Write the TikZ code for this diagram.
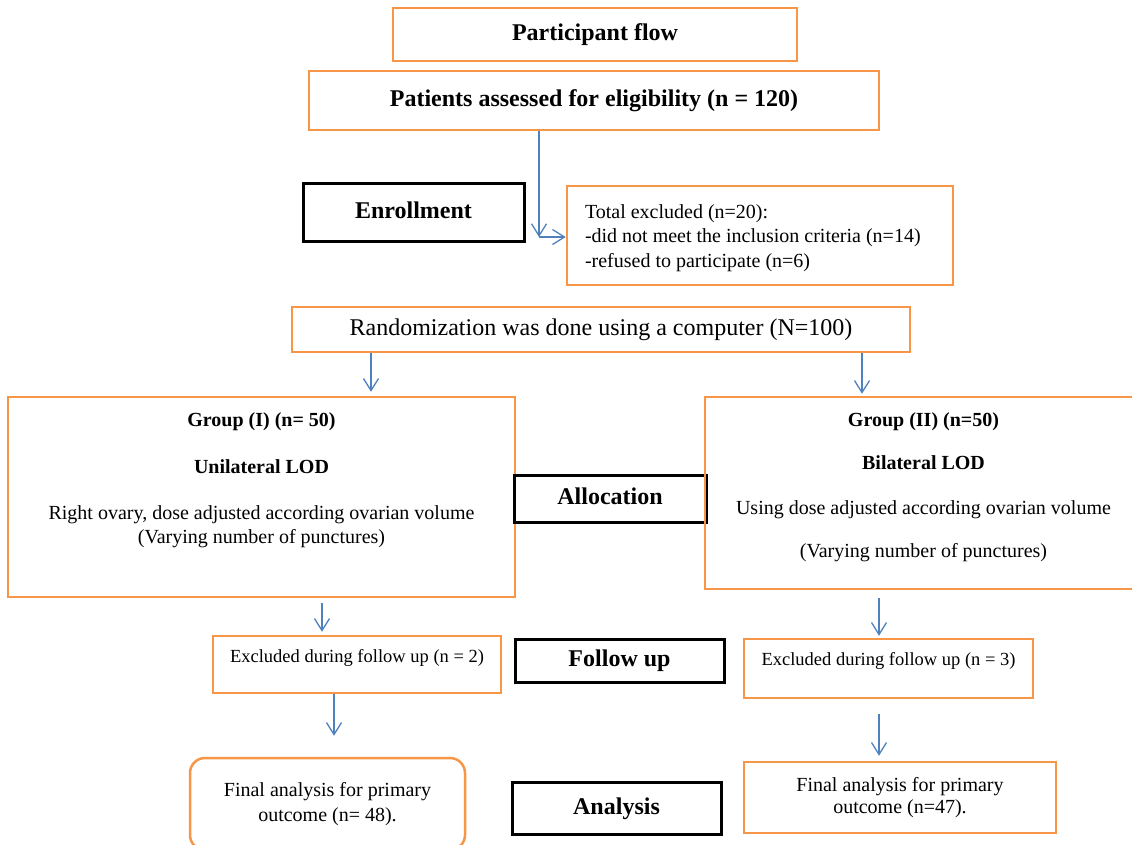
\documentclass[tikz,border=0pt]{standalone}
\usepackage{fontspec}
\setmainfont{Liberation Serif}
\usepackage{tikz}
\usetikzlibrary{arrows.meta}
\definecolor{boxorange}{HTML}{F79646}
\definecolor{arrowblue}{HTML}{4F81BD}
\newcommand{\headfont}{\fontsize{24}{28}\selectfont}
\newcommand{\groupfont}{\fontsize{20}{24}\selectfont}
\tikzset{
    flowbox/.style={
           rectangle,
           draw=boxorange, line width=2.5pt,
           inner sep=0pt,
           text centered,
           },
    stagebox/.style={
           rectangle,
           draw=black, line width=3pt,
           inner sep=0pt,
           font=\headfont\bfseries,
           text height=17pt, text depth=5pt,
           },
    flowarrow/.style={->, draw=arrowblue, line width=1.3pt},
}

\begin{document}
\begin{tikzpicture}[x=1pt,y=-1pt,>={Straight Barb[length=12pt,width=15pt]}]

 \useasboundingbox (0,0) rectangle (1132,844);

 % top of the flow
 \node[flowbox,minimum width=404pt,minimum height=53pt,font=\headfont\bfseries] (flow) at (595,34.5)
 {Participant flow};
 \node[flowbox,minimum width=570pt,minimum height=59pt,font=\headfont\bfseries] (assessed) at (594,100.5)
 {Patients assessed for eligibility (n = 120)};

 % enrollment stage
 \node[stagebox,minimum width=221pt,minimum height=58pt] (enroll) at (413.5,212) {Enrollment};
 \node[flowbox,inner xsep=18pt] (excluded) at (760,235.5)
 {\parbox[c][99pt][t]{350pt}{\raggedright\fontsize{20}{24.5}\selectfont
  \rule{0pt}{32pt}Total excluded (n=20):\\
  -did not meet the inclusion criteria (n=14)\\
  -refused to participate (n=6)}};

 \node[flowbox,minimum width=618pt,minimum height=45pt,font=\headfont] (random) at (601,329.5)
 {Randomization was done using a computer (N=100)};

 % allocation stage
 \node[flowbox] (groupone) at (261.5,497)
 {\parbox[c][200pt][t]{507pt}{\centering\groupfont
  \rule{0pt}{29pt}\textbf{Group (I) (n= 50)}\\[23pt]
  \textbf{Unilateral LOD}\\[22pt]
  Right ovary, dose adjusted according ovarian volume\\
  (Varying number of punctures)}};
 \node[stagebox,minimum width=192pt,minimum height=47pt] (alloc) at (610,498.5) {Allocation};
 \node[flowbox] (grouptwo) at (923.5,493)
 {\parbox[c][192pt][t]{437pt}{\centering\groupfont
  \rule{0pt}{29pt}\textbf{Group (II) (n=50)}\\[19pt]
  \textbf{Bilateral LOD}\\[21pt]
  Using dose adjusted according ovarian volume\\[19pt]
  (Varying number of punctures)}};

 % follow up stage
 \node[flowbox] (lossone) at (357,664.5)
 {\parbox[c][57pt][t]{288pt}{\centering\fontsize{18.5}{22}\selectfont
  \rule{0pt}{26.5pt}Excluded during follow up (n = 2)}};
 \node[stagebox,minimum width=209pt,minimum height=43pt] (follow) at (619.5,660.5) {Follow up};
 \node[flowbox] (losstwo) at (888.5,668.5)
 {\parbox[c][59pt][t]{289pt}{\centering\fontsize{18.5}{22}\selectfont
  \rule{0pt}{26.5pt}Excluded during follow up (n = 3)}};

 % analysis stage
 \node[flowbox,rounded corners=15pt,minimum width=275pt,minimum height=92pt,
  align=center,font=\fontsize{20}{25}\selectfont] (finalone) at (327.5,804)
 {Final analysis for primary\\outcome (n= 48).};
 \node[stagebox,minimum width=209pt,minimum height=52pt] (analysis) at (616.5,808) {Analysis};
 \node[flowbox,minimum width=312pt,minimum height=71pt,
  align=center,font=\fontsize{20}{22}\selectfont] (finaltwo) at (900,797.5)
 {Final analysis for primary\\outcome (n=47).};

 % columns of the arrows
 \coordinate (split) at (539,237);
 \coordinate (colA) at (371,0);
 \coordinate (colB) at (862,0);
 \coordinate (colC) at (322,0);
 \coordinate (colD) at (334,0);
 \coordinate (colE) at (879,0);

 \draw[flowarrow] (assessed.south -| split) -- (split);
 \draw[flowarrow] (split) -- (excluded.west |- split);
 \draw[flowarrow,shorten >=4pt] (random.south -| colA) -- (groupone.north -| colA);
 \draw[flowarrow,shorten >=2pt] (random.south -| colB) -- (grouptwo.north -| colB);
 \draw[flowarrow,shorten <=5pt,shorten >=3pt] (groupone.south -| colC) -- (lossone.north -| colC);
 \draw[flowarrow,shorten >=21pt] (lossone.south -| colD) -- (finalone.north -| colD);
 \draw[flowarrow,shorten <=8pt,shorten >=2pt] (grouptwo.south -| colE) -- (losstwo.north -| colE);
 \draw[flowarrow,shorten <=15pt,shorten >=5pt] (losstwo.south -| colE) -- (finaltwo.north -| colE);

\end{tikzpicture}
\end{document}
